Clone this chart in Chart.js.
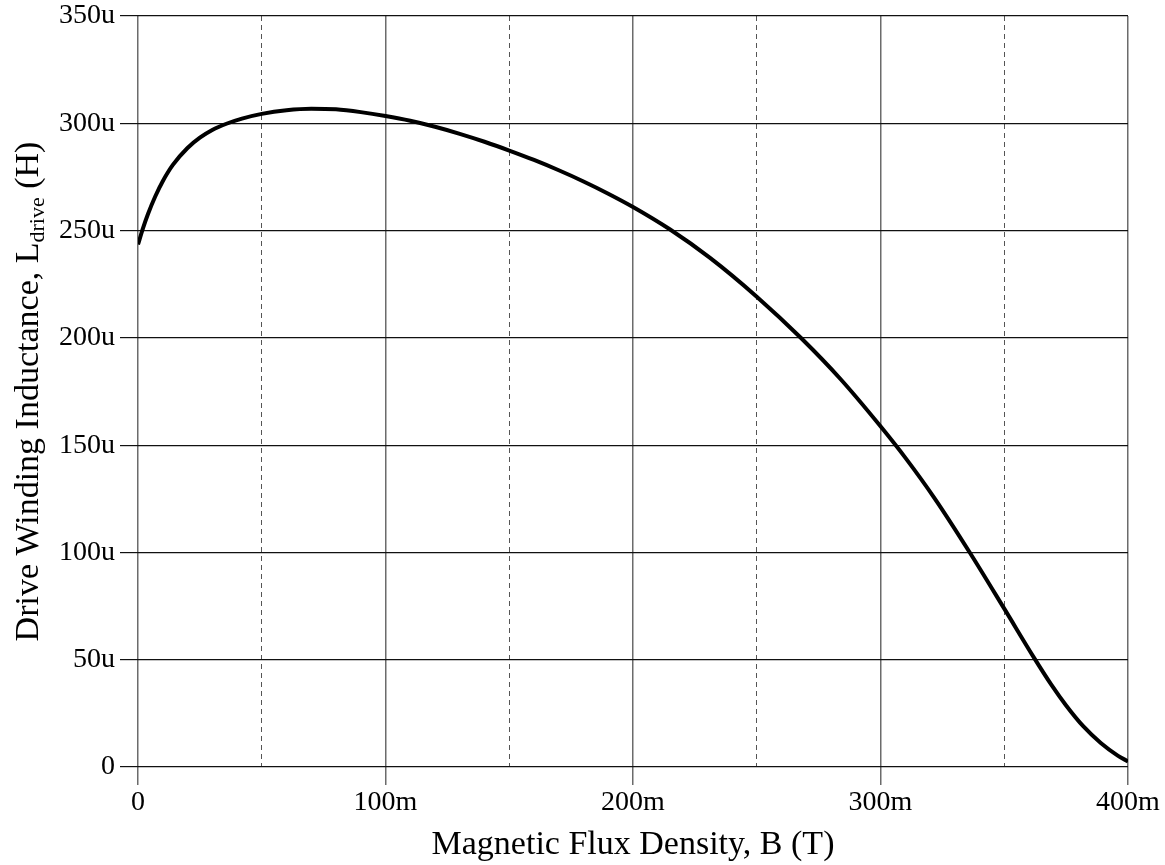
<!DOCTYPE html>
<html>
<head>
<meta charset="utf-8">
<script src="https://cdn.jsdelivr.net/npm/chart.js@4"></script>
<style>
  html, body { margin: 0; padding: 0; background: #fff; }
  #wrap { width: 1165px; height: 865px; }
</style>
</head>
<body>
<div id="wrap"><canvas id="inductance"></canvas></div>
<script>
  // flux density in mT, inductance in uH
  const fluxB = [0, 2, 4, 7, 10, 14, 20, 25, 30, 36, 42, 50, 60, 70, 80, 90,
    100, 110, 120, 130, 140, 150, 160, 170, 180, 190, 200, 215, 231, 250, 268, 284,
    300, 310, 322, 336, 350, 362, 369, 375, 382, 389, 396, 400];
  const lDrive = [243.5, 251, 257.6, 266, 273, 280.5, 288.5, 293.3, 296.9, 299.9, 302.2, 304.4, 306.1, 306.8, 306.5, 305.2,
    303.4, 301.2, 298.4, 295.1, 291.4, 287.3, 282.9, 278.1, 272.9, 267.2, 261, 250.5, 237.4, 219.2, 199.8, 180.6,
    158.8, 144.2, 125, 100.1, 73.8, 51, 38.4, 28.7, 18.9, 11.2, 5.2, 2.6];

  const xMajorTicks = [0, 100, 200, 300, 400];
  const xMajorLabels = ["0", "100m", "200m", "300m", "400m"];
  const xMinorTicks = [50, 150, 250, 350];
  const yTicks = [0, 50, 100, 150, 200, 250, 300, 350];
  const yLabels = ["0", "50u", "100u", "150u", "200u", "250u", "300u", "350u"];

  const serif = "'Liberation Serif', 'Times New Roman', serif";

  // y title with the "drive" subscript
  const yTitle = {
    id: "yTitle",
    afterDraw(chart) {
      const ctx = chart.ctx;
      const area = chart.chartArea;
      const parts = [
        { text: "Drive Winding Inductance, L", size: 34, shift: 0 },
        { text: "drive", size: 22, shift: 6 },
        { text: " (H)", size: 34, shift: 0 }
      ];
      ctx.save();
      ctx.translate(38, (area.top + area.bottom) / 2);
      ctx.rotate(-Math.PI / 2);
      ctx.fillStyle = "#000";
      ctx.textBaseline = "alphabetic";
      ctx.textAlign = "left";
      let total = 0;
      parts.forEach(p => {
        ctx.font = p.size + "px " + serif;
        p.w = ctx.measureText(p.text).width;
        total += p.w;
      });
      let x = -total / 2;
      parts.forEach(p => {
        ctx.font = p.size + "px " + serif;
        ctx.fillText(p.text, x, p.shift);
        x += p.w;
      });
      ctx.restore();
    }
  };

  const points = fluxB.map((b, i) => ({ x: b, y: lDrive[i] }));

  new Chart(document.getElementById("inductance"), {
    type: "line",
    data: {
      datasets: [{
        data: points,
        borderColor: "#000",
        borderWidth: 4,
        pointRadius: 0,
        fill: false,
        cubicInterpolationMode: "monotone"
      }]
    },
    options: {
      responsive: true,
      maintainAspectRatio: false,
      animation: false,
      layout: { padding: { left: 0, right: 37, top: 16, bottom: 0 } },
      plugins: { legend: { display: false }, tooltip: { enabled: false } },
      scales: {
        x: {
          type: "linear",
          min: 0,
          max: 400,
          afterBuildTicks: s => { s.ticks = xMajorTicks.map(v => ({ value: v })); },
          afterFit: s => { s.height = 98; s.paddingLeft = 0; s.paddingRight = 0; },
          ticks: {
            color: "#000",
            font: { family: serif, size: 28 },
            padding: 1,
            maxRotation: 0,
            callback: v => xMajorLabels[xMajorTicks.indexOf(v)]
          },
          grid: { color: "#6b6b6b", lineWidth: 1.5, tickLength: 18 },
          border: { display: false },
          title: {
            display: true,
            text: "Magnetic Flux Density, B (T)",
            color: "#000",
            font: { family: serif, size: 34 },
            padding: { top: 0, bottom: 0 }
          }
        },
        xMinor: {
          type: "linear",
          position: "top",
          min: 0,
          max: 400,
          afterBuildTicks: s => { s.ticks = xMinorTicks.map(v => ({ value: v })); },
          afterFit: s => { s.height = 0; s.paddingLeft = 0; s.paddingRight = 0; },
          ticks: { display: false },
          grid: { color: "#555", lineWidth: 1, drawTicks: false },
          border: { display: false, dash: [5, 4] }
        },
        y: {
          min: 0,
          max: 350,
          afterBuildTicks: s => { s.ticks = yTicks.map(v => ({ value: v })); },
          afterFit: s => { s.width = 138; s.paddingTop = 0; s.paddingBottom = 0; },
          ticks: {
            color: "#000",
            font: { family: serif, size: 28 },
            padding: 5,
            callback: v => yLabels[yTicks.indexOf(v)]
          },
          grid: { color: "#111", lineWidth: 1.2, tickLength: 18 },
          border: { display: false }
        }
      }
    },
    plugins: [yTitle]
  });
</script>
</body>
</html>
